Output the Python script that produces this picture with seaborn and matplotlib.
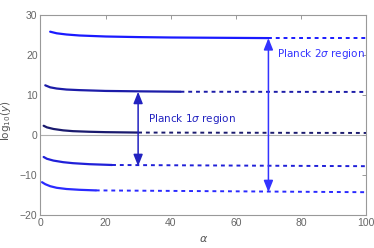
import matplotlib
matplotlib.use("Agg")
import matplotlib.pyplot as plt
import seaborn as sns
import pandas as pd

# ---- data ----
x1 = [3, 5, 8, 12, 20, 30, 40, 50, 60, 70]
y1 = [25.8, 25.4, 25.1, 24.85, 24.6, 24.45, 24.35, 24.3, 24.25, 24.2]
x2 = [1.5, 3, 5, 8, 12, 20, 30, 43]
y2 = [12.4, 11.9, 11.6, 11.35, 11.2, 11.0, 10.9, 10.8]
x3 = [1, 2, 4, 7, 10, 15, 20, 30]
y3 = [2.3, 1.9, 1.5, 1.15, 0.95, 0.8, 0.7, 0.6]
x4 = [1, 2, 4, 7, 10, 15, 22]
y4 = [-5.5, -5.95, -6.4, -6.8, -7.05, -7.3, -7.5]
x5 = [0.5, 1.5, 3, 5, 8, 12, 17]
y5 = [-11.8, -12.3, -12.8, -13.2, -13.5, -13.7, -13.85]
# dotted continuations to alpha = 100
y1_end = 24.2
y2_end = 10.75
y3_end = 0.5
y4_end = -7.8
y5_end = -14.3

colors = ["#1a1aff", "#1c1ca8", "#1a1a6e", "#2020d8", "#2a2aff"]

sns.set_style("white")
plt.rcParams['font.family'] = ['DejaVu Sans']
plt.rcParams['mathtext.fontset'] = 'dejavusans'

fig = plt.figure(figsize=(3.74, 2.48), dpi=100)
ax = fig.add_axes([0.108, 0.133, 0.871, 0.807])

ax.axhline(0, color="#b0b0b0", lw=0.8, zorder=0)

series = [(x1, y1, y1_end), (x2, y2, y2_end), (x3, y3, y3_end),
          (x4, y4, y4_end), (x5, y5, y5_end)]
for (xs, ys, yend), c in zip(series, colors):
    df = pd.DataFrame({"a": xs, "v": ys})
    sns.lineplot(data=df, x="a", y="v", ax=ax, color=c, lw=1.6)
    dd = pd.DataFrame({"a": [xs[-1], 100], "v": [ys[-1], yend]})
    sns.lineplot(data=dd, x="a", y="v", ax=ax, color=c, lw=1.4,
                 dashes=False, linestyle=(0, (2.0, 2.0)))

# arrows
astyle = "<|-|>,head_length=0.7,head_width=0.28"
ax.annotate("", xy=(30, -7.8), xytext=(30, 10.8),
            arrowprops=dict(arrowstyle=astyle, color="#2222c0", lw=1.1,
                            mutation_scale=10, shrinkA=0, shrinkB=0))
ax.annotate("", xy=(70, -14.3), xytext=(70, 24.2),
            arrowprops=dict(arrowstyle=astyle, color="#3333ff", lw=1.1,
                            mutation_scale=10, shrinkA=0, shrinkB=0))
ax.text(33, 4.0, r"Planck 1$\sigma$ region", color="#2222c0", fontsize=7.5,
        va="center", ha="left")
ax.text(72.5, 20.3, r"Planck 2$\sigma$ region", color="#3333ff", fontsize=7.5,
        va="center", ha="left")

ax.set_xlim(0, 100)
ax.set_ylim(-20, 30)
ax.set_xticks([0, 20, 40, 60, 80, 100])
ax.set_yticks([-20, -10, 0, 10, 20, 30])
ax.tick_params(direction="in", length=3, width=0.7, color="#999999",
               labelcolor="#666666", labelsize=7.5, top=True, right=True,
               labeltop=False, labelright=False, pad=2)
for lab in ax.get_xticklabels() + ax.get_yticklabels():
    lab.set_family(['Liberation Sans', 'DejaVu Sans'])
for s in ax.spines.values():
    s.set_color("#999999")
    s.set_linewidth(0.8)
ax.set_xlabel(r"$\alpha$", color="#555555", fontsize=8)
ax.xaxis.set_label_coords(0.5, -0.095)
ax.set_ylabel(r"log$_{10}$($y$)", color="#555555", fontsize=7.5)
ax.yaxis.set_label_coords(-0.085, 0.47)

fig.savefig("out.png", dpi=100)
